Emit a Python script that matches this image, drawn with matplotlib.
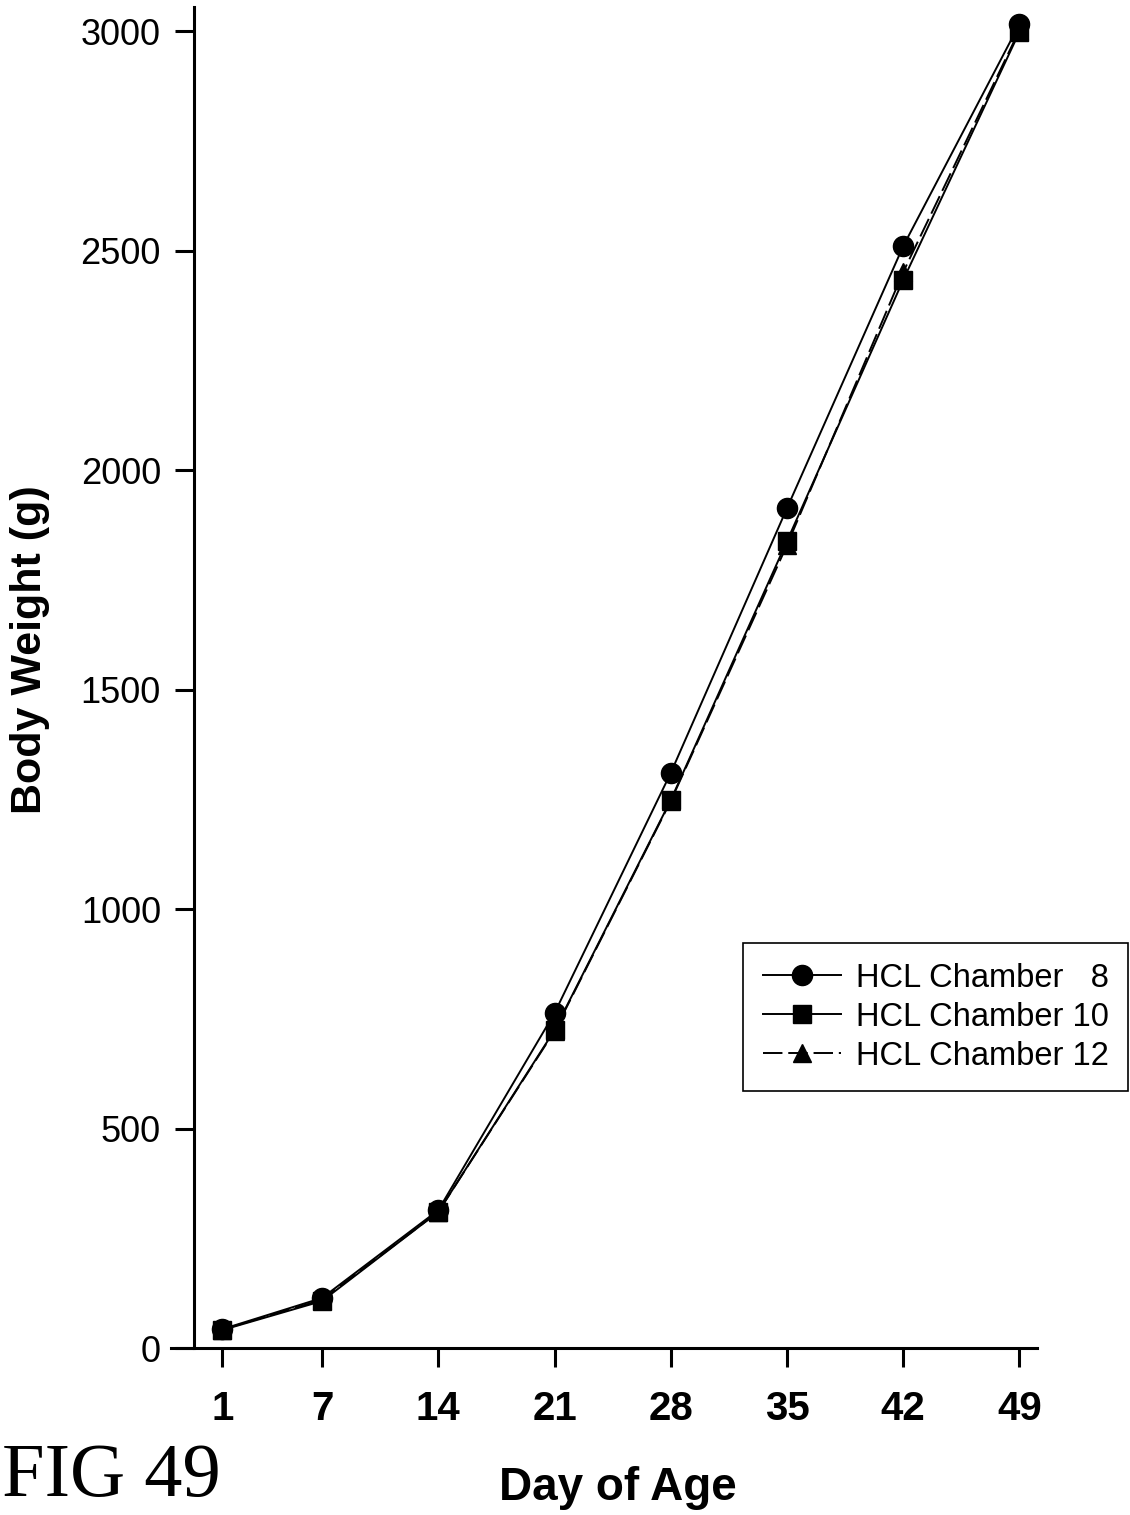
import matplotlib
matplotlib.use("Agg")
import matplotlib.pyplot as plt

days = [1, 7, 14, 21, 28, 35, 42, 49]
chamber8 = [43, 114, 314, 763, 1310, 1913, 2510, 3016]
chamber10 = [41, 107, 310, 724, 1248, 1838, 2433, 2998]
chamber12 = [42, 110, 310, 722, 1246, 1829, 2451, 3002]
labels = ["HCL Chamber   8", "HCL Chamber 10", "HCL Chamber 12"]
yticks = [0, 500, 1000, 1500, 2000, 2500, 3000]

W, H = 1130, 1515
fig = plt.figure(figsize=(W / 100, H / 100), dpi=100)
ax = fig.add_axes([171 / W, 1 - 1348 / H, (1037 - 171) / W, (1348 - 7) / H])

lw = 1.4
ax.plot(days, chamber8, color="black", lw=lw, marker="o", ms=14.5, label=labels[0], zorder=3)
ax.plot(days, chamber10, color="black", lw=lw, marker="s", ms=12.5, label=labels[1], zorder=3)
ax.plot(days, chamber12, color="black", lw=lw, marker="^", ms=13.5, ls=(0, (10, 3)), label=labels[2], zorder=3)

ax.set_xlim(-2.1, 50.06)
ax.set_ylim(0, 3055)
ax.set_xticks(days)
ax.set_xticklabels([str(d) for d in days])
ax.set_yticks(yticks)
ax.set_yticklabels([str(v) for v in yticks])

for s in ["top", "right"]:
    ax.spines[s].set_visible(False)
ax.spines["left"].set_position(("data", -0.7))
ax.spines["left"].set_linewidth(2.2)
ax.spines["bottom"].set_linewidth(2.2)
ax.tick_params(axis="both", direction="out", length=14, width=2.2, color="black")
ax.tick_params(axis="y", pad=10, labelsize=26)
ax.tick_params(axis="x", pad=16)

for t in ax.get_yticklabels():
    t.set_fontfamily(["Liberation Sans", "DejaVu Sans"])
for t in ax.get_xticklabels():
    t.set_fontfamily(["Liberation Sans", "DejaVu Sans"])
    t.set_fontweight("bold")
    t.set_fontsize(29)

fig.text(30 / W, 1 - 650 / H, "Body Weight (g)", rotation=90, ha="center", va="center",
         fontsize=31, fontweight="bold", family=["Liberation Sans", "DejaVu Sans"])
fig.text(618 / W, 1 - 1488 / H, "Day of Age", ha="center", va="center",
         fontsize=33, fontweight="bold", family=["Liberation Sans", "DejaVu Sans"])
fig.text(2 / W, 3 / H, "FIG 49", ha="left", va="bottom",
         fontsize=55, family=["Liberation Serif", "DejaVu Serif"])

leg = ax.legend(loc="upper left", bbox_to_anchor=(743 / W, 1 - 943 / H), bbox_transform=fig.transFigure,
                borderaxespad=0, frameon=True, fancybox=False, edgecolor="black", framealpha=1,
                prop={"family": ["Liberation Sans", "DejaVu Sans"], "size": 23.5},
                handlelength=2.4, handletextpad=0.45, labelspacing=0.25, borderpad=0.6)
leg.get_frame().set_linewidth(1.2)

fig.savefig("out.png", dpi=100, facecolor="white")
